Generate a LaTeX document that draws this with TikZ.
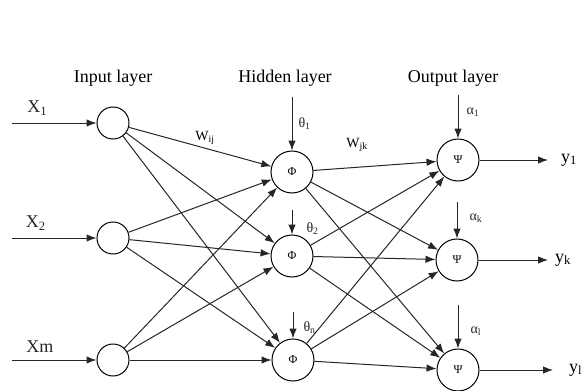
\documentclass[tikz,border=0pt]{standalone}
\usepackage{fontspec}
\setmainfont{Liberation Serif}
\usetikzlibrary{arrows.meta}

\tikzset{
    neuron/.style={draw, circle, line width=1pt, inner sep=0pt},
    innode/.style={neuron, minimum size=32pt},
    calcnode/.style={neuron, minimum size=42pt, font=\fontsize{12}{13}\selectfont},
    link/.style={black!85, line width=1pt, -{Latex[length=10pt,width=7.5pt]}},
    lbl/.style={inner sep=0pt, font=\fontsize{18}{20}\selectfont},
    small/.style={inner sep=0pt, font=\fontsize{14}{15}\selectfont},
}

\begin{document}
\begin{tikzpicture}[x=1pt, y=-1pt]
	        \useasboundingbox (0, 0) rectangle (582, 391);

	        % layers
	        \node [lbl] at (113, 78) (tin) {Input layer};
	        \node [lbl] at (285, 78) (thid) {Hidden layer};
	        \node [lbl] at (453, 78) (tout) {Output layer};

	        \node [innode] at (113, 123) (i1) {};
	        \node [innode] at (113, 238) (i2) {};
	        \node [innode] at (113, 360) (i3) {};

	        \node [calcnode] at (292, 172) (h1) {Φ};
	        \node [calcnode] at (292, 256) (h2) {Φ};
	        \node [calcnode] at (293, 360) (h3) {Φ};

	        \node [calcnode] at (458, 160) (o1) {Ψ};
	        \node [calcnode] at (457, 260) (o2) {Ψ};
	        \node [calcnode] at (458, 370) (o3) {Ψ};

	        % free ends
	        \coordinate (x1) at (12, 123);
	        \coordinate (x2) at (12, 238);
	        \coordinate (x3) at (12, 360);
	        \coordinate (t1) at (292, 97);
	        \coordinate (t2) at (292, 210);
	        \coordinate (t3) at (293, 312);
	        \coordinate (a1) at (458, 95);
	        \coordinate (a2) at (457, 202);
	        \coordinate (a3) at (458, 305);
	        \coordinate (e1) at (548, 160);
	        \coordinate (e2) at (548, 260);
	        \coordinate (e3) at (553, 370);

	        % inputs
	        \draw [link] (x1) -- node[lbl, above=7pt, pos=0.3] {X\textsubscript{1}} (i1);
	        \draw [link] (x2) -- node[lbl, above=7pt, pos=0.28] {X\textsubscript{2}} (i2);
	        \draw [link] (x3) -- node[lbl, above=7pt, pos=0.33] {Xm} (i3);

	        % input -> hidden
	        \draw [link] (i1) -- (h1);
	        \draw [link] (i1) -- (h2);
	        \draw [link] (i1) -- (h3);
	        \draw [link] (i2) -- (h1);
	        \draw [link] (i2) -- (h2);
	        \draw [link] (i2) -- (h3);
	        \draw [link] (i3) -- (h1);
	        \draw [link] (i3) -- (h2);
	        \draw [link] (i3) -- (h3);

	        % hidden -> output
	        \draw [link] (h1) -- (o1);
	        \draw [link] (h1) -- (o2);
	        \draw [link] (h1) -- (o3);
	        \draw [link] (h2) -- (o1);
	        \draw [link] (h2) -- (o2);
	        \draw [link] (h2) -- (o3);
	        \draw [link] (h3) -- (o1);
	        \draw [link] (h3) -- (o2);
	        \draw [link] (h3) -- (o3);

	        % thresholds
	        \draw [link] (t1) -- node[small, right=6pt, pos=0.5] {θ\textsubscript{1}} (h1);
	        \draw [link] (t2) -- node[small, right=14pt, pos=0.75] {θ\textsubscript{2}} (h2);
	        \draw [link] (t3) -- node[small, right=10pt, pos=0.6] {θ\textsubscript{n}} (h3);
	        \draw [link] (a1) -- node[small, right=8pt, pos=0.4] {α\textsubscript{1}} (o1);
	        \draw [link] (a2) -- node[small, right=12pt, pos=0.45] {α\textsubscript{k}} (o2);
	        \draw [link] (a3) -- node[small, right=12pt, pos=0.6] {α\textsubscript{l}} (o3);

	        % outputs
	        \draw [link] (o1) -- (e1);
	        \draw [link] (o2) -- (e2);
	        \draw [link] (o3) -- (e3);
	        \node [lbl, right=13pt] at (e1) (y1) {y\textsubscript{1}};
	        \node [lbl, right=7pt] at (e2) (y2) {y\textsubscript{k}};
	        \node [lbl, right=16pt] at (e3) (y3) {y\textsubscript{l}};

	        % weights
	        \node [small] at (205, 138) (wij) {W\textsubscript{ij}};
	        \node [small] at (357, 145) (wjk) {W\textsubscript{jk}};
        \end{tikzpicture}
\end{document}
